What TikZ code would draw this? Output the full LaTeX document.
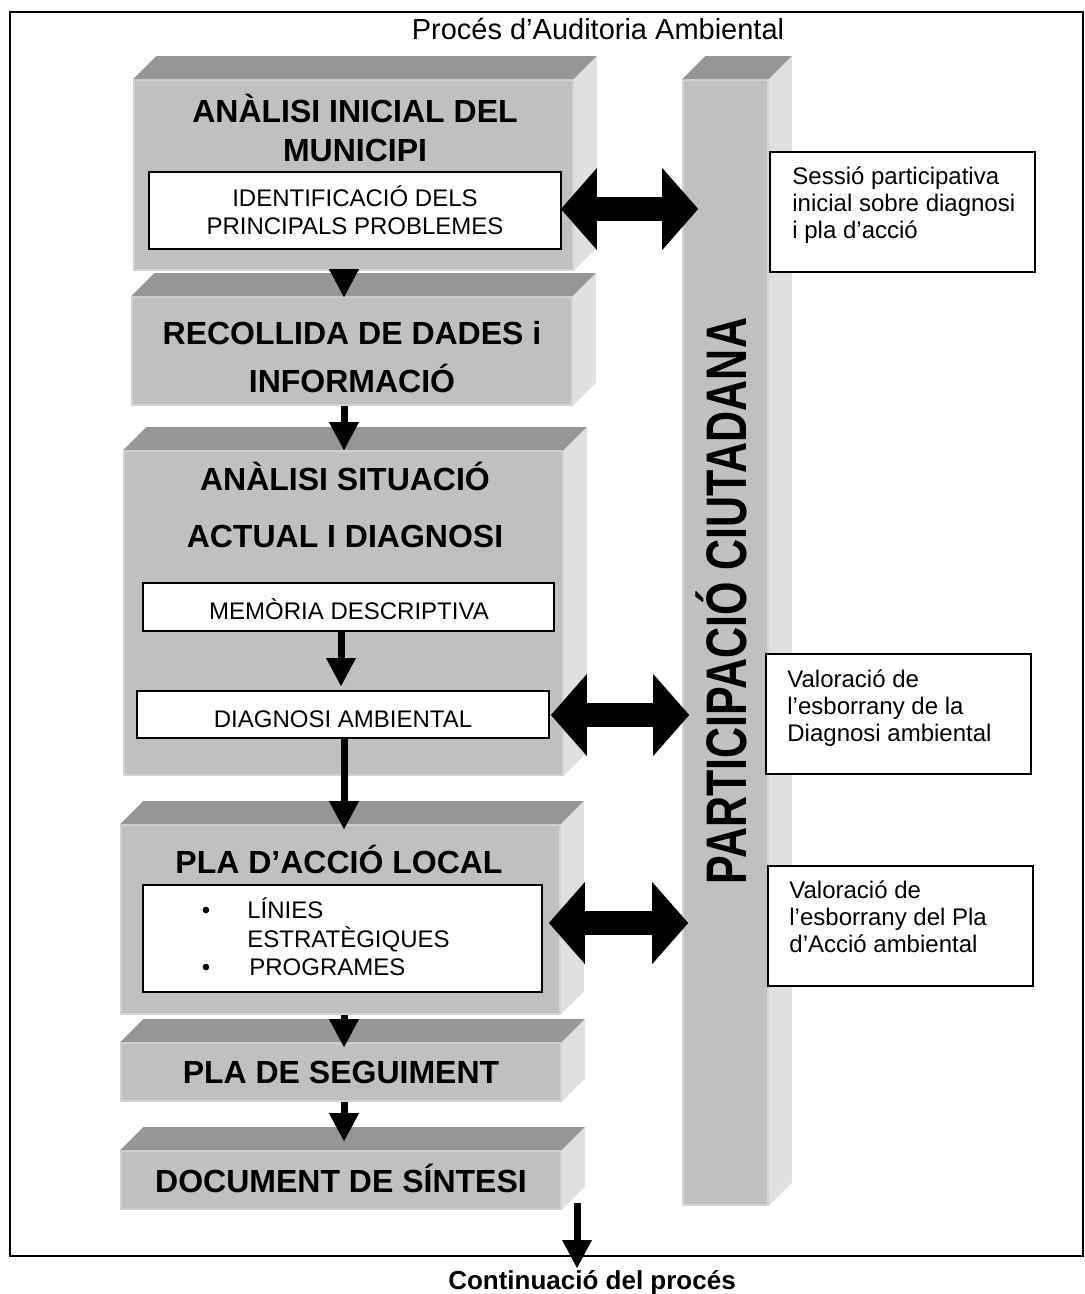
\documentclass[tikz,border=0pt]{standalone}
\usepackage{fontspec}
\setmainfont{Liberation Sans}
\usetikzlibrary{arrows.meta,fit,calc}
\definecolor{frontgray}{HTML}{C0C0C0}
\definecolor{topgray}{HTML}{969696}
\definecolor{sidegray}{HTML}{E0E0E0}
\definecolor{edgegray}{HTML}{D2D2D2}
\newcommand{\boxfaces}[1]{%
  \fill[topgray] (#1.north west) -- ++(23,-23) -- ($(#1.north east)+(23,-23)$) -- (#1.north east) -- cycle;
  \fill[sidegray] (#1.north east) -- ++(23,-23) -- ($(#1.south east)+(23,-23)$) -- (#1.south east) -- cycle;}
\begin{document}
\begin{tikzpicture}[x=0.5pt,y=-0.5pt,
  frontface/.style={fill=frontgray, draw=edgegray, line width=0.8pt, inner sep=0pt, fit={#1}},
  whitebox/.style={fill=white, draw=black, line width=0.9pt, inner sep=0pt, fit={#1}},
  ttl/.style={font=\fontsize{16}{19}\selectfont\bfseries, anchor=base, inner sep=0pt},
  itxt/.style={font=\fontsize{12}{14}\selectfont, anchor=base, inner sep=0pt},
  ltxt/.style={font=\fontsize{12}{14}\selectfont, anchor=base west, inner sep=0pt},
  down/.style={line width=3.5pt, -{Triangle[width=15pt,length=14pt,line width=0pt]}},
  dbl/.style={line width=12pt, {Triangle[width=41pt,length=18pt,line width=0pt]}-{Triangle[width=41pt,length=18pt,line width=0pt]}}
]
\useasboundingbox (0,0) rectangle (1085,1294);
\fill[white] (0,0) rectangle (1085,1294);

% outer frame
\node[draw=black, line width=1pt, inner sep=0pt, fit={(10,12)(1083,1256)}] (frame) {};
\node[font=\fontsize{14.5}{16}\selectfont, anchor=base, inner sep=0pt] (title) at (598,40) {Procés d’Auditoria Ambiental};

% column
\node[frontface={(683,80)(768,1205)}] (col) {};
\boxfaces{col}
\node[font=\fontsize{21.5}{24}\selectfont\bfseries, rotate=90, anchor=base, inner sep=0pt] (coltxt) at (746,601) {\scalebox{1}[1.33]{PARTICIPACIÓ CIUTADANA}};

% box 1
\node[frontface={(134,80)(573,270)}] (b1) {};
\boxfaces{b1}
\node[ttl] (b1a) at (355,123) {ANÀLISI INICIAL DEL};
\node[ttl] (b1b) at (355,162) {MUNICIPI};
\node[whitebox={(149,172)(561,249)}] (i1) {};
\node[itxt] (i1a) at (355,207) {IDENTIFICACIÓ DELS};
\node[itxt] (i1b) at (355,235) {PRINCIPALS PROBLEMES};

% box 2
\node[frontface={(132,297)(572,405)}] (b2) {};
\boxfaces{b2}
\node[ttl] (b2a) at (352,344) {RECOLLIDA DE DADES i};
\node[ttl] (b2b) at (352,392) {INFORMACIÓ};

% box 3
\node[frontface={(124,451)(563,775)}] (b3) {};
\boxfaces{b3}
\node[ttl] (b3a) at (345,490) {ANÀLISI SITUACIÓ};
\node[ttl] (b3b) at (345,547) {ACTUAL I DIAGNOSI};
\node[whitebox={(143,583)(554,631)}] (mem) {};
\node[itxt] (memt) at (349,619) {MEMÒRIA DESCRIPTIVA};
\node[whitebox={(137,691)(549,738)}] (diag) {};
\node[itxt] (diagt) at (343,727) {DIAGNOSI AMBIENTAL};

% box 4
\node[frontface={(121,825)(560,1014)}] (b4) {};
\boxfaces{b4}
\node[ttl] (b4a) at (339,873) {PLA D’ACCIÓ LOCAL};
\node[whitebox={(143,885)(542,992)}] (i4) {};
\node[itxt] (bu1) at (206,918) {•};
\node[ltxt] (l1) at (247,918) {LÍNIES};
\node[ltxt] (l2) at (247,947) {ESTRATÈGIQUES};
\node[itxt] (bu2) at (206,975) {•};
\node[ltxt] (l3) at (249,975) {PROGRAMES};

% box 5
\node[frontface={(121,1043)(561,1101)}] (b5) {};
\boxfaces{b5}
\node[ttl] (b5a) at (341,1083) {PLA DE SEGUIMENT};

% box 6
\node[frontface={(121,1151)(561,1209)}] (b6) {};
\boxfaces{b6}
\node[ttl] (b6a) at (341,1192) {DOCUMENT DE SÍNTESI};

% right boxes
\node[whitebox={(770,152)(1035,272)}] (r1) {};
\node[ltxt] (r1a) at (792,185) {Sessió participativa};
\node[ltxt] (r1b) at (792,212) {inicial sobre diagnosi};
\node[ltxt] (r1c) at (792,239) {i pla d’acció};

\node[whitebox={(766,654)(1031,774)}] (r2) {};
\node[ltxt] (r2a) at (787,687) {Valoració de};
\node[ltxt] (r2b) at (787,714) {l’esborrany de la};
\node[ltxt] (r2c) at (787,741) {Diagnosi ambiental};

\node[whitebox={(768,866)(1033,986)}] (r3) {};
\node[ltxt] (r3a) at (789,898) {Valoració de};
\node[ltxt] (r3b) at (789,925) {l’esborrany del Pla};
\node[ltxt] (r3c) at (789,952) {d’Acció ambiental};

% continuation
\node[font=\fontsize{13}{15}\selectfont\bfseries, anchor=base, inner sep=0pt] (cont) at (592,1289) {Continuació del procés};
\coordinate (cs) at (577,1203);
\coordinate (ce) at (577,1268);

% arrows
\coordinate (ax) at (344,0);
\coordinate (ax2) at (341,0);
\draw[down] (b1.south -| ax) -- ($(b2.north -| ax)+(0,1)$);
\draw[down] (b2.south -| ax) -- (b3.north -| ax);
\draw[down] (mem.south -| ax2) -- ($(diag.north -| ax2)+(0,-4)$);
\draw[down] (diag.south -| ax) -- ($(b4.north -| ax)+(0,5)$);
\draw[down] (b4.south -| ax) -- ($(b5.north -| ax)+(0,5)$);
\draw[down] (b5.south -| ax) -- ($(b6.north -| ax)+(0,-9)$);
\draw[down] (cs) -- (ce);

\draw[dbl] ($(i1.east)+(-1,-1.5)$) -- ($(col.west |- i1.east)+(16,-1.5)$);
\draw[dbl] ($(diag.east)+(1,0.5)$) -- ($(col.west |- diag.east)+(7,0.5)$);
\draw[dbl] ($(i4.east)+(6,-15.5)$) -- ($(col.west |- i4.east)+(6,-15.5)$);
\end{tikzpicture}
\end{document}
